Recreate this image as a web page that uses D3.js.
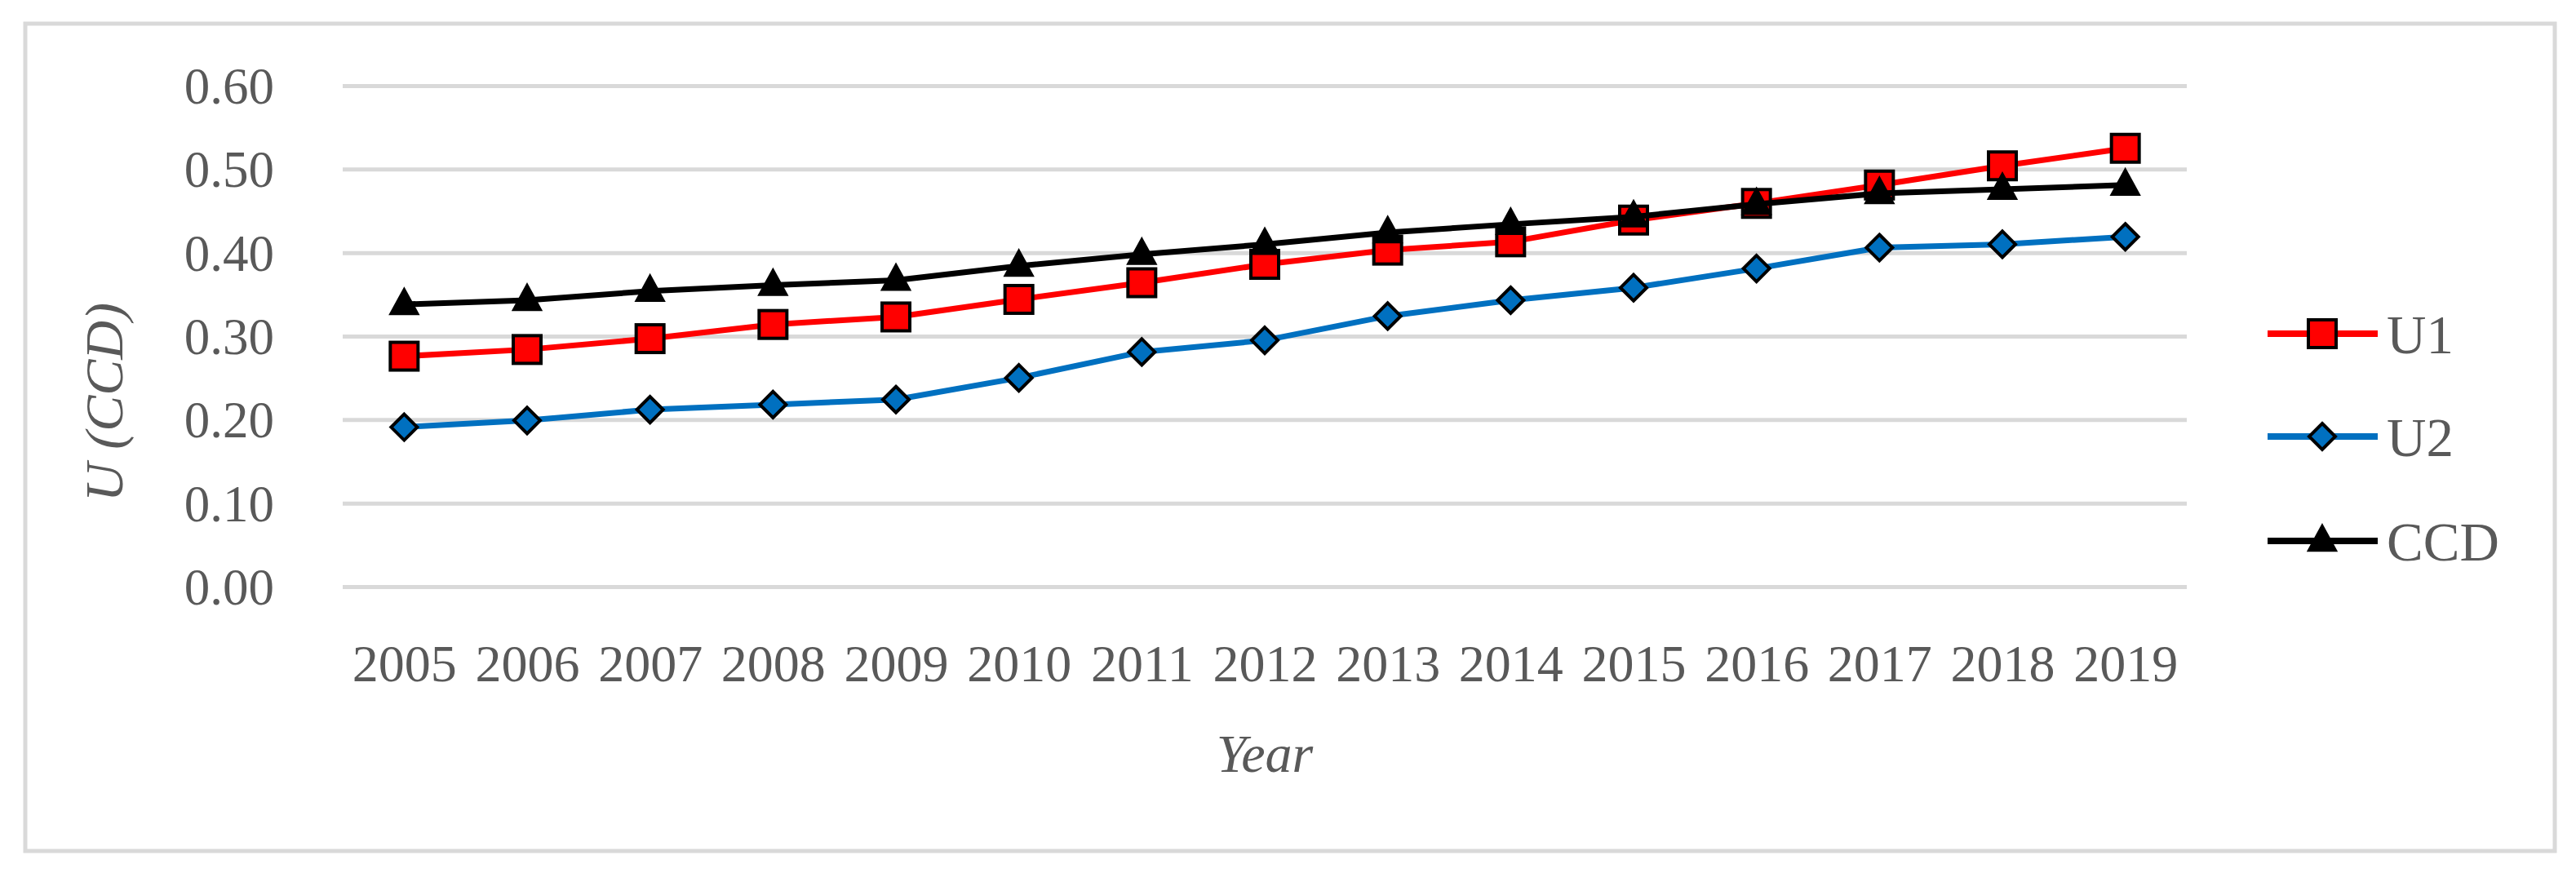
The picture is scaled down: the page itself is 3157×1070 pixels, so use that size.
<!DOCTYPE html>
<html>
<head>
<meta charset="utf-8">
<script src="https://cdn.jsdelivr.net/npm/d3@7/dist/d3.min.js"></script>
<style>
  html, body { margin: 0; padding: 0; background: #ffffff; }
  svg { display: block; }
</style>
</head>
<body>
<div id="chart"></div>
<script>
// ---- data ----
const years = ["2005","2006","2007","2008","2009","2010","2011","2012","2013","2014","2015","2016","2017","2018","2019"];
const u1  = [0.276,0.284,0.297,0.314,0.323,0.344,0.364,0.386,0.403,0.413,0.439,0.459,0.481,0.504,0.525];
const u2  = [0.191,0.199,0.212,0.218,0.224,0.250,0.281,0.295,0.324,0.343,0.358,0.381,0.406,0.410,0.419];
const ccd = [0.338,0.343,0.354,0.361,0.367,0.384,0.398,0.410,0.424,0.434,0.443,0.458,0.471,0.476,0.481];
const yTicks = [0, 0.1, 0.2, 0.3, 0.4, 0.5, 0.6];
const seriesNames = ["U1", "U2", "CCD"];
const yTitle = "U (CCD)";
const xTitle = "Year";

const W = 3157, H = 1070;
const FONT = "'Liberation Serif', 'Times New Roman', serif";
const TEXT = "#595959";
const GRID = "#d9d9d9";

const series = [
  { name: seriesNames[0], values: u1,  color: "#ff0000", marker: "square" },
  { name: seriesNames[1], values: u2,  color: "#0070c0", marker: "diamond" },
  { name: seriesNames[2], values: ccd, color: "#000000", marker: "triangle" }
];

const plot = { left: 420, right: 2680, top: 105, bottom: 719 };

const svg = d3.select("#chart").append("svg")
  .attr("width", W).attr("height", H);

svg.append("rect").attr("width", W).attr("height", H).attr("fill", "#fff");

// outer border
svg.append("rect")
  .attr("x", 31).attr("y", 29)
  .attr("width", 3100).attr("height", 1014)
  .attr("fill", "none").attr("stroke", GRID).attr("stroke-width", 5);

const x = d3.scalePoint().domain(years).range([plot.left, plot.right]).padding(0.5);
const y = d3.scaleLinear().domain([0, 0.6]).range([plot.bottom, plot.top]);

// gridlines
const grid = svg.append("g").attr("transform", `translate(${plot.left},0)`)
  .call(d3.axisLeft(y).tickValues(yTicks).tickSize(-(plot.right - plot.left)).tickFormat(""));
grid.select(".domain").remove();
grid.selectAll(".tick line").attr("stroke", GRID).attr("stroke-width", 5);

// y axis labels
const yAx = svg.append("g").attr("transform", `translate(336,0)`)
  .call(d3.axisLeft(y).tickValues(yTicks).tickSize(0).tickPadding(0).tickFormat(d3.format(".2f")));
yAx.select(".domain").remove();
yAx.selectAll("text").attr("font-family", FONT).attr("font-size", 63).attr("fill", TEXT)
  .attr("dy", "0.34em");

// x axis labels
const xAx = svg.append("g").attr("transform", `translate(0,${plot.bottom})`)
  .call(d3.axisBottom(x).tickSize(0).tickPadding(0));
xAx.select(".domain").remove();
xAx.selectAll("text").attr("font-family", FONT).attr("font-size", 64).attr("fill", TEXT)
  .attr("dy", 0).attr("y", 116);

// axis titles
svg.append("text")
  .attr("transform", `translate(150,493) rotate(-90)`)
  .attr("text-anchor", "middle")
  .attr("font-family", FONT).attr("font-style", "italic").attr("font-size", 66)
  .attr("fill", TEXT).text(yTitle);

svg.append("text")
  .attr("x", (plot.left + plot.right) / 2).attr("y", 946)
  .attr("text-anchor", "middle")
  .attr("font-family", FONT).attr("font-style", "italic").attr("font-size", 66)
  .attr("fill", TEXT).text(xTitle);

// markers
function drawMarker(g, type, color, cx, cy) {
  if (type === "square") {
    g.append("rect").attr("x", cx - 17).attr("y", cy - 17).attr("width", 34).attr("height", 34)
      .attr("fill", color).attr("stroke", "#000").attr("stroke-width", 4);
  } else if (type === "diamond") {
    const r = 16;
    g.append("path").attr("d", `M${cx},${cy - r}L${cx + r},${cy}L${cx},${cy + r}L${cx - r},${cy}Z`)
      .attr("fill", color).attr("stroke", "#000").attr("stroke-width", 4);
  } else {
    const h = 32, w = 35;
    g.append("path").attr("d", `M${cx},${cy - h * 0.62}L${cx + w / 2},${cy + h * 0.38}L${cx - w / 2},${cy + h * 0.38}Z`)
      .attr("fill", "#000").attr("stroke", "#000").attr("stroke-width", 2);
  }
}

const line = d3.line().x((d, i) => x(years[i])).y(d => y(d));

series.forEach(s => {
  const g = svg.append("g");
  g.append("path").datum(s.values).attr("d", line)
    .attr("fill", "none").attr("stroke", s.color).attr("stroke-width", 7)
    .attr("stroke-linejoin", "round");
  s.values.forEach((v, i) => drawMarker(g, s.marker, s.color, x(years[i]), y(v)));
});

// legend
const legendY = [409, 535, 663];
series.forEach((s, i) => {
  const g = svg.append("g");
  const ly = legendY[i];
  g.append("line").attr("x1", 2779).attr("x2", 2914).attr("y1", ly).attr("y2", ly)
    .attr("stroke", s.color).attr("stroke-width", 8);
  drawMarker(g, s.marker, s.color, 2846, ly);
  g.append("text").attr("x", 2925).attr("y", ly).attr("dy", "0.36em")
    .attr("font-family", FONT).attr("font-size", 67).attr("fill", TEXT).text(s.name);
});
</script>
</body>
</html>
